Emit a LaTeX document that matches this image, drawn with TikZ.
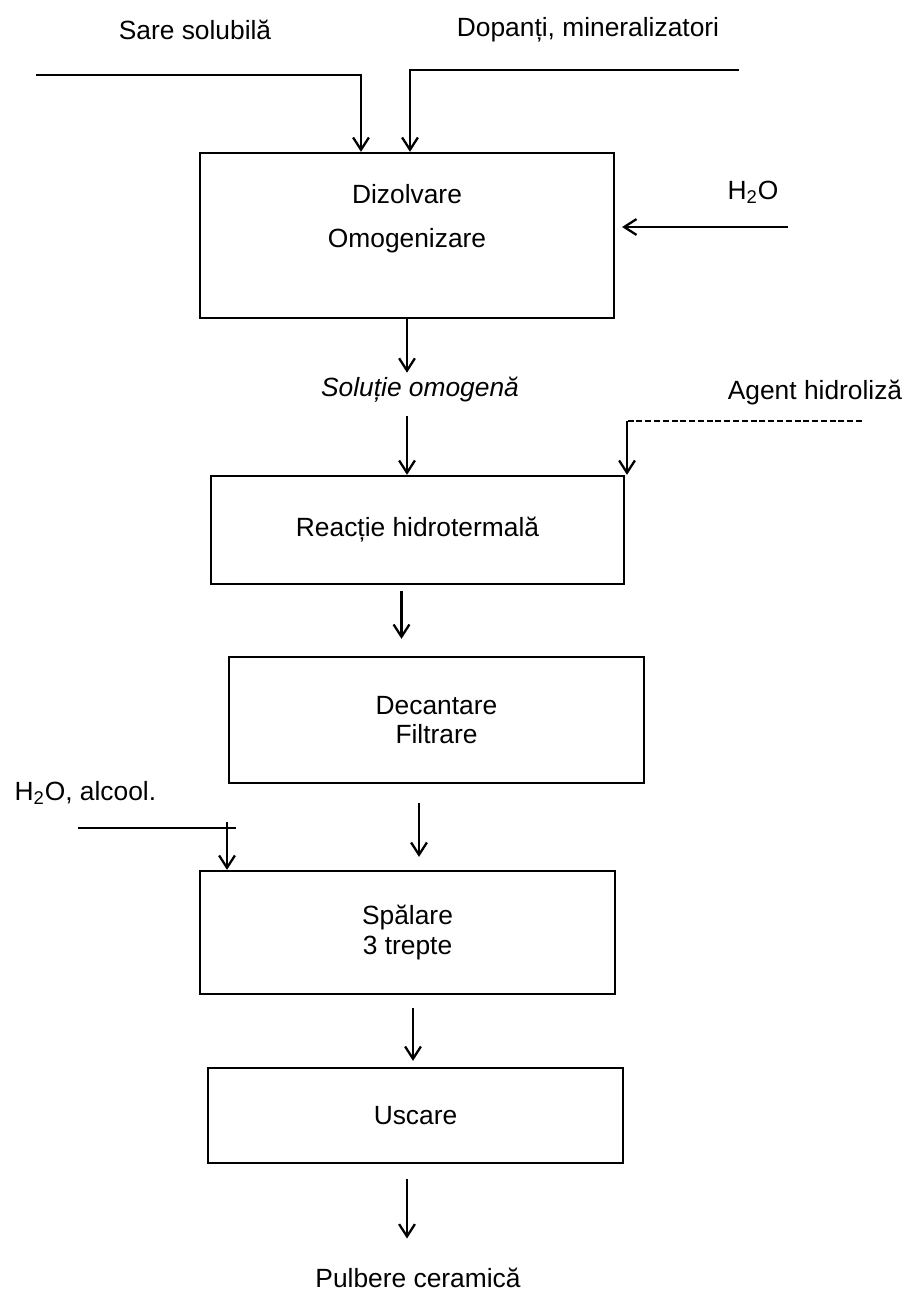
\documentclass[tikz,border=0pt]{standalone}
\usepackage{fontspec}
\setmainfont{Liberation Sans}
\usetikzlibrary{arrows.meta}
\newcommand{\fs}{\fontsize{15}{17}\selectfont}

\begin{document}
\begin{tikzpicture}[x=0.02cm, y=-0.02cm, line width=1.3pt,
   >={Straight Barb[length=7pt,width=9pt]},
   box/.style={draw, align=center, font=\fs, inner sep=0pt},
   txt/.style={align=center, font=\fs, inner sep=2pt}]
   \useasboundingbox (0,0) rectangle (905,1294);
   % process steps
   \node[box, minimum width=8.28cm, minimum height=3.3cm]  (dizolvare) at (407,235.5) {};
   \node[txt] (dizolvareTxt) at (407,219) {Dizolvare\\[8pt]Omogenizare};
   \node[box, minimum width=8.26cm, minimum height=2.16cm] (reactie)   at (417.5,530) {Reacție hidrotermală};
   \node[box, minimum width=8.3cm,  minimum height=2.52cm] (decantare) at (436.5,720) {Decantare\\Filtrare};
   \node[box, minimum width=8.3cm,  minimum height=2.46cm] (spalare)   at (407.5,932.5) {Spălare\\3 trepte};
   \node[box, minimum width=8.3cm,  minimum height=1.9cm]  (uscare)    at (415.5,1115.5) {Uscare};
   % inputs and products
   \node[txt] (sare)    at (195,30)  {Sare solubilă};
   \node[txt] (dopanti) at (588,30)  {Dopanți, mineralizatori};
   \node[txt] (apa)     at (753,192) {H\textsubscript{2}O};
   \node[txt, font=\fs\itshape] (solutie) at (420,390) {Soluție omogenă};
   \node[txt] (agent)   at (815,393) {Agent hidroliză};
   \node[txt, anchor=west] (alcool) at (10,793) {H\textsubscript{2}O, alcool.};
   \node[txt] (pulbere) at (418,1278) {Pulbere ceramică};
   % feed lines
   \coordinate (sareA) at (36,75);   \coordinate (sareB) at (361,75);
   \coordinate (dopA)  at (739,70);  \coordinate (dopB)  at (410,70);
   \coordinate (apaA)  at (788,227);
   \coordinate (agentA) at (862,421); \coordinate (agentB) at (627,421);
   \coordinate (alcoolA) at (78,828); \coordinate (alcoolB) at (236,828);
   \coordinate (alcoolC) at (227,822);
   \draw[->] (sareA) -- (sareB) -- (sareB |- dizolvare.north);
   \draw[->] (dopA) -- (dopB) -- (dopB |- dizolvare.north);
   \draw[->, shorten >=0.14cm] (apaA) -- (apaA -| dizolvare.east);
   \draw[dash pattern=on 3.4pt off 1.6pt, line width=1pt] (agentA) -- (agentB);
   \draw[->] (agentB) -- (agentB |- reactie.north);
   \draw (alcoolA) -- (alcoolB);
   \draw[->] (alcoolC) -- (alcoolC |- spalare.north);
   % main flow
   \draw[->] (dizolvare.south) -- (dizolvare.south |- solutie.north);
   \draw[->, shorten <=5pt] (dizolvare.south |- solutie.south) -- (dizolvare.south |- reactie.north);
   \draw[->, shorten <=0.12cm, shorten >=0.34cm] ([xshift=-0.32cm]reactie.south) -- ([xshift=-0.32cm]reactie.south |- decantare.north);
   \draw[->, shorten <=0.38cm, shorten >=0.26cm] ([xshift=-0.35cm]decantare.south) -- ([xshift=-0.35cm]decantare.south |- spalare.north);
   \draw[->, shorten <=0.26cm, shorten >=0.12cm] ([xshift=0.11cm]spalare.south) -- ([xshift=0.11cm]spalare.south |- uscare.north);
   \draw[->, shorten <=0.3cm, shorten >=0.5cm] ([xshift=-0.17cm]uscare.south) -- ([xshift=-0.17cm]uscare.south |- pulbere.north);
\end{tikzpicture}
\end{document}
